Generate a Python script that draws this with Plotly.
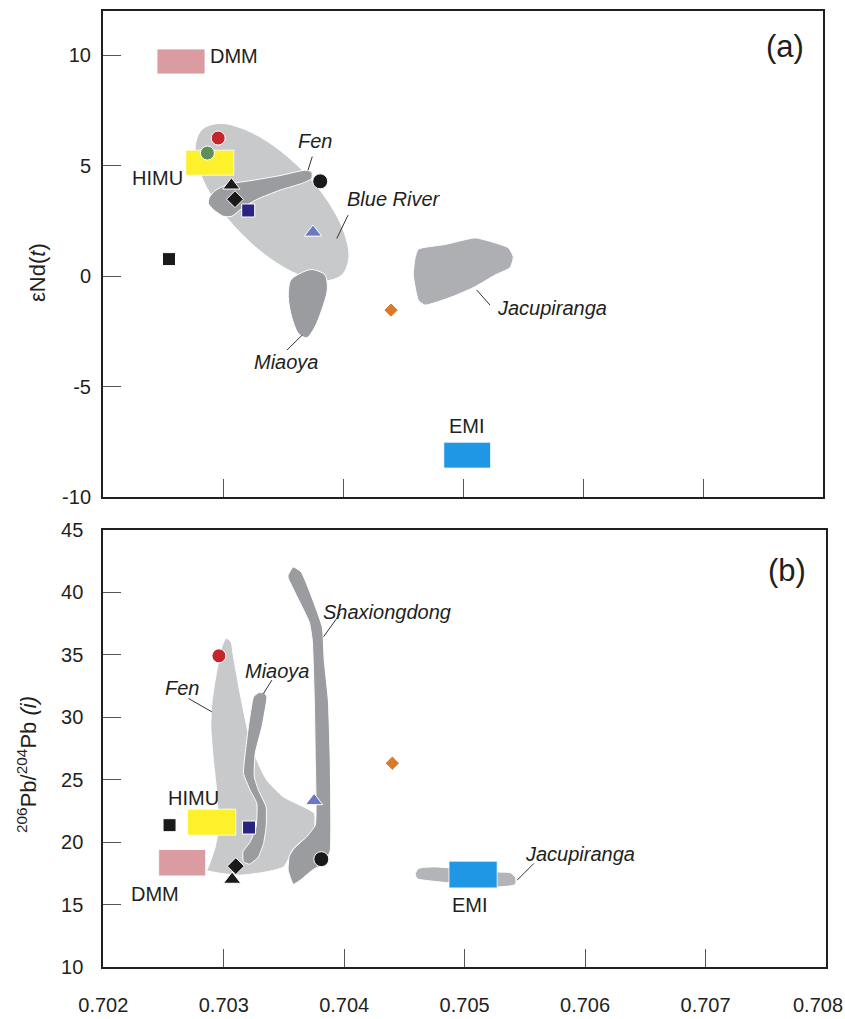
import plotly.graph_objects as go

# ---------------- data ----------------
X_TICKS = [0.702, 0.703, 0.704, 0.705, 0.706, 0.707, 0.708]
X_TICK_LABELS = ["0.702", "0.703", "0.704", "0.705", "0.706", "0.707", "0.708"]
YA_TICKS = [-10, -5, 0, 5, 10]
YA_TICK_LABELS = ["-10", "-5", "0", "5", "10"]
YB_TICKS = [10, 15, 20, 25, 30, 35, 40, 45]
YB_TICK_LABELS = ["10", "15", "20", "25", "30", "35", "40", "45"]

# samples (87Sr/86Sr)i, eNd(t), 206Pb/204Pb(i)
sample_sr = [0.70296, 0.70287, 0.70307, 0.70310, 0.70321, 0.70381, 0.70375, 0.70255, 0.70440]
sample_nd = [6.25, 5.57, 4.11, 3.48, 2.97, 4.29, 1.98, 0.77, -1.54]
sample_pb = [34.9, None, 17.0, 18.07, 21.16, 18.63, 23.29, 21.35, 26.31]
sample_symbol = ["circle", "circle", "triangle-up", "diamond", "square", "circle",
                 "triangle-up", "square", "diamond"]
sample_color = ["#C4262E", "#5E8F5A", "#1A1A1A", "#1A1A1A", "#2A2382", "#1A1A1A",
                "#6B78C2", "#1A1A1A", "#D97A2B"]
sample_size = [14, 14, 15, 13, 13, 15, 15, 13, 11]

# mantle end-member boxes [x0, x1, y0, y1]
dmm_a = [0.70245, 0.70285, 9.15, 10.28]
himu_a = [0.70269, 0.70309, 4.57, 5.70]
emi_a = [0.70484, 0.70523, -8.69, -7.52]
dmm_b = [0.70246, 0.70285, 17.29, 19.40]
himu_b = [0.70270, 0.70310, 20.55, 22.63]
emi_b = [0.70487, 0.70527, 16.33, 18.47]

# fields, panel (a)
blue_river_a_x = [0.703993, 0.704049, 0.704008, 0.703877, 0.703672, 0.703428, 0.703182, 0.702969,
                  0.702823, 0.702768, 0.702808, 0.702940, 0.703145, 0.703388, 0.703635, 0.703848]
blue_river_a_y = [0.06, 0.84, 2.00, 3.37, 4.73, 5.88, 6.64, 6.91, 6.63, 5.85, 4.69, 3.32, 1.96,
                  0.81, 0.05, -0.22]
fen_a_x = [0.702886, 0.702933, 0.703044, 0.703253, 0.703475, 0.703683, 0.703739, 0.703739,
           0.703669, 0.703475, 0.703281, 0.703156, 0.703073, 0.703003, 0.702919, 0.702878]
fen_a_y = [3.56, 3.86, 4.16, 4.34, 4.55, 4.79, 4.72, 4.42, 4.22, 3.89, 3.47, 3.06, 2.71, 2.71,
           3.02, 3.29]
miaoya_a_x = [0.703642, 0.703739, 0.703850, 0.703869, 0.703822, 0.703767, 0.703697, 0.703628,
              0.703572, 0.703544, 0.703564]
miaoya_a_y = [0.12, 0.30, 0.05, -0.63, -1.54, -2.29, -2.79, -2.59, -1.84, -0.94, -0.18]
jacup_a_x = [0.704628, 0.704850, 0.705100, 0.705239, 0.705378, 0.705419, 0.705392, 0.705267,
             0.705100, 0.704906, 0.704683, 0.704628, 0.704586, 0.704600]
jacup_a_y = [1.22, 1.43, 1.73, 1.55, 1.28, 0.87, 0.38, 0.05, -0.48, -0.94, -1.31, -1.09, 0.05, 0.80]

# fields, panel (b)
fen_b_x = [0.703020, 0.703059, 0.703081, 0.703136, 0.703205, 0.703275, 0.703358, 0.703496,
           0.703663, 0.703751, 0.703746, 0.703579, 0.703496, 0.703136, 0.702860, 0.702873,
           0.702929, 0.702956, 0.702943, 0.702914, 0.702893, 0.702901, 0.702929, 0.702984]
fen_b_y = [36.30, 36.02, 34.82, 31.89, 28.69, 26.55, 24.95, 23.61, 22.81, 22.29, 20.94, 19.48,
           18.01, 17.35, 17.75, 18.01, 19.61, 21.21, 23.89, 26.55, 29.22, 31.09, 32.96, 35.62]
miaoya_b_x = [0.703247, 0.703205, 0.703178, 0.703164, 0.703219, 0.703275, 0.703269, 0.703219,
              0.703159, 0.703164, 0.703214, 0.703288, 0.703330, 0.703352, 0.703352, 0.703288,
              0.703253, 0.703261, 0.703317, 0.703358, 0.703336, 0.703288]
miaoya_b_y = [31.62, 29.22, 27.09, 25.49, 24.15, 23.09, 21.21, 20.01, 19.21, 18.41, 18.23, 18.81,
              19.88, 21.21, 22.81, 24.15, 25.22, 27.09, 29.22, 31.62, 31.94, 31.94]
shax_b_x = [0.703535, 0.703577, 0.703643, 0.703818, 0.703834, 0.703868, 0.703884, 0.703884,
            0.703843, 0.703735, 0.703635, 0.703577, 0.703535, 0.703544, 0.703585, 0.703685,
            0.703760, 0.703760, 0.703752, 0.703735, 0.703710, 0.703535]
shax_b_y = [41.37, 42.01, 41.61, 37.20, 34.56, 31.36, 26.55, 19.34, 18.39, 17.75, 16.95, 16.63,
            17.75, 18.87, 19.51, 20.39, 21.35, 26.55, 31.36, 36.16, 37.60, 41.13]
jacup_b_x = [0.704591, 0.704618, 0.704743, 0.704882, 0.705270, 0.705381, 0.705422, 0.705422,
             0.705353, 0.705270, 0.704882, 0.704716, 0.704605]
jacup_b_y = [17.48, 17.88, 18.01, 17.93, 17.61, 17.53, 17.16, 16.62, 16.46, 16.41, 16.73, 16.89,
             17.08]

# text labels (text, x, y, italic)
labels_a = [("DMM", 0.703094, 9.95, False), ("HIMU", 0.702452, 4.42, False),
            ("Fen", 0.703767, 6.10, True), ("Blue River", 0.704425, 3.48, True),
            ("Miaoya", 0.703523, -3.89, True), ("Jacupiranga", 0.705739, -1.46, True),
            ("EMI", 0.705036, -6.77, False)]
labels_b = [("HIMU", 0.702748, 23.55, False), ("DMM", 0.702430, 15.81, False),
            ("Fen", 0.702652, 32.32, True), ("Miaoya", 0.703441, 33.69, True),
            ("Shaxiongdong", 0.704358, 38.40, True), ("Jacupiranga", 0.705956, 19.01, True),
            ("EMI", 0.705048, 15.00, False)]

# leader lines
leader_a_x = [0.703744, 0.703708, None, 0.704042, 0.703948, None, 0.703660, 0.703533, None,
              0.705114, 0.705225]
leader_a_y = [5.41, 4.79, None, 2.76, 1.70, None, -2.67, -3.35, None, -0.63, -1.31]
leader_b_x = [0.702707, 0.702901, None, 0.703400, 0.703330, None, 0.703968, 0.703829, None,
              0.705574, 0.705436]
leader_b_y = [31.49, 30.42, None, 32.96, 31.89, None, 38.30, 36.43, None, 18.28, 16.95]

# ---------------- styles ----------------
FONT = "Liberation Sans"
INK = "#231F20"
LIGHT = "#C8C9CB"
DARK = "#9B9C9F"
MID = "#AEAFB2"

fig = go.Figure()


def field(x, y, color, xa, ya, smooth=0.8):
    fig.add_trace(go.Scatter(x=x + x[:1], y=y + y[:1], mode="lines", fill="toself",
                             fillcolor=color, line=dict(color="white", width=1, shape="spline",
                                                        smoothing=smooth),
                             xaxis=xa, yaxis=ya, hoverinfo="skip", showlegend=False))


def box(r, color, xa, ya):
    x0, x1, y0, y1 = r
    fig.add_trace(go.Scatter(x=[x0, x1, x1, x0, x0], y=[y0, y0, y1, y1, y0], mode="lines",
                             fill="toself", fillcolor=color,
                             line=dict(color="rgba(255,255,255,0.8)", width=1),
                             xaxis=xa, yaxis=ya, hoverinfo="skip", showlegend=False))


# panel (a)
field(blue_river_a_x, blue_river_a_y, LIGHT, "x", "y", 1.0)
field(fen_a_x, fen_a_y, DARK, "x", "y", 0.6)
field(miaoya_a_x, miaoya_a_y, DARK, "x", "y", 0.8)
field(jacup_a_x, jacup_a_y, MID, "x", "y", 0.5)
box(dmm_a, "#DB9CA1", "x", "y")
box(himu_a, "#FDF12B", "x", "y")
box(emi_a, "#1F97E4", "x", "y")
fig.add_trace(go.Scatter(x=leader_a_x, y=leader_a_y, mode="lines",
                         line=dict(color="#333333", width=1), xaxis="x", yaxis="y",
                         hoverinfo="skip", showlegend=False))

# panel (b)
field(fen_b_x, fen_b_y, LIGHT, "x2", "y2", 0.6)
field(miaoya_b_x, miaoya_b_y, DARK, "x2", "y2", 0.4)
field(shax_b_x, shax_b_y, DARK, "x2", "y2", 0.4)
field(jacup_b_x, jacup_b_y, "#B3B4B7", "x2", "y2", 0.7)
box(dmm_b, "#DB9CA1", "x2", "y2")
box(himu_b, "#FDF12B", "x2", "y2")
box(emi_b, "#1F97E4", "x2", "y2")
fig.add_trace(go.Scatter(x=leader_b_x, y=leader_b_y, mode="lines",
                         line=dict(color="#333333", width=1), xaxis="x2", yaxis="y2",
                         hoverinfo="skip", showlegend=False))

# samples
for i in range(len(sample_sr)):
    mk = dict(symbol=sample_symbol[i], color=sample_color[i], size=sample_size[i],
              line=dict(color="white", width=1))
    fig.add_trace(go.Scatter(x=[sample_sr[i]], y=[sample_nd[i]], mode="markers", marker=mk,
                             xaxis="x", yaxis="y", hoverinfo="skip", showlegend=False))
    if sample_pb[i] is not None:
        fig.add_trace(go.Scatter(x=[sample_sr[i]], y=[sample_pb[i]], mode="markers", marker=mk,
                                 xaxis="x2", yaxis="y2", hoverinfo="skip", showlegend=False))

annotations = []
for txt, x, y, it in labels_a:
    annotations.append(dict(text=f"<i>{txt}</i>" if it else txt, x=x, y=y, xref="x", yref="y",
                            showarrow=False, xanchor="center", yanchor="middle",
                            font=dict(family=FONT, size=20, color=INK)))
for txt, x, y, it in labels_b:
    annotations.append(dict(text=f"<i>{txt}</i>" if it else txt, x=x, y=y, xref="x2", yref="y2",
                            showarrow=False, xanchor="center", yanchor="middle",
                            font=dict(family=FONT, size=20, color=INK)))
annotations.append(dict(text="(a)", x=0.70768, y=10.4, xref="x", yref="y", showarrow=False,
                        xanchor="center", yanchor="middle", font=dict(family=FONT, size=31, color=INK)))
annotations.append(dict(text="(b)", x=0.70768, y=41.7, xref="x2", yref="y2", showarrow=False,
                        xanchor="center", yanchor="middle", font=dict(family=FONT, size=31, color=INK)))
# last x tick label (nudged left to stay inside the page, as in the original)
annotations.append(dict(text=X_TICK_LABELS[-1], x=X_TICKS[-1], y=-0.0397, xref="x2", yref="paper",
                        xshift=-8, showarrow=False, xanchor="center", yanchor="middle",
                        font=dict(family=FONT, size=20, color=INK)))
# axis titles
annotations.append(dict(text="εNd(<i>t</i>)", x=-0.0899, y=0.726, xref="paper", yref="paper",
                        textangle=-90, showarrow=False, xanchor="center", yanchor="middle",
                        font=dict(family=FONT, size=22, color=INK)))
annotations.append(dict(text="<sup>206</sup>Pb/<sup>204</sup>Pb <i>(i)</i>", x=-0.1051, y=0.2113,
                        xref="paper", yref="paper", textangle=-90, showarrow=False,
                        xanchor="center", yanchor="middle",
                        font=dict(family=FONT, size=22, color=INK)))

axis_common = dict(showline=True, linecolor=INK, linewidth=2, mirror=True, ticks="inside",
                   ticklen=18, tickwidth=1, tickcolor="#555555", showgrid=False, zeroline=False,
                   automargin=False, tickfont=dict(family=FONT, size=20, color=INK))

fig.update_layout(
    template="none",
    width=845, height=1019,
    margin=dict(l=103, r=19, t=11, b=52, pad=0, autoexpand=False),
    paper_bgcolor="white", plot_bgcolor="white",
    showlegend=False,
    xaxis=dict(domain=[0, 0.99585], anchor="y", range=[0.702, 0.708], tickvals=X_TICKS[:-1],
               showticklabels=False, **axis_common),
    yaxis=dict(domain=[0.4916, 1], anchor="x", range=[-10, 12], tickvals=YA_TICKS,
               ticktext=YA_TICK_LABELS, ticklabelstandoff=6, **axis_common),
    xaxis2=dict(domain=[0.0004, 1], anchor="y2", range=[0.702, 0.708], tickvals=X_TICKS[:-1],
                ticktext=X_TICK_LABELS[:-1], ticklabelstandoff=19, **axis_common),
    yaxis2=dict(domain=[0, 0.4575], anchor="x2", range=[10, 45], tickvals=YB_TICKS,
                ticktext=YB_TICK_LABELS, ticklabelstandoff=14, **axis_common),
    annotations=annotations,
)

fig.write_html("out.html")
